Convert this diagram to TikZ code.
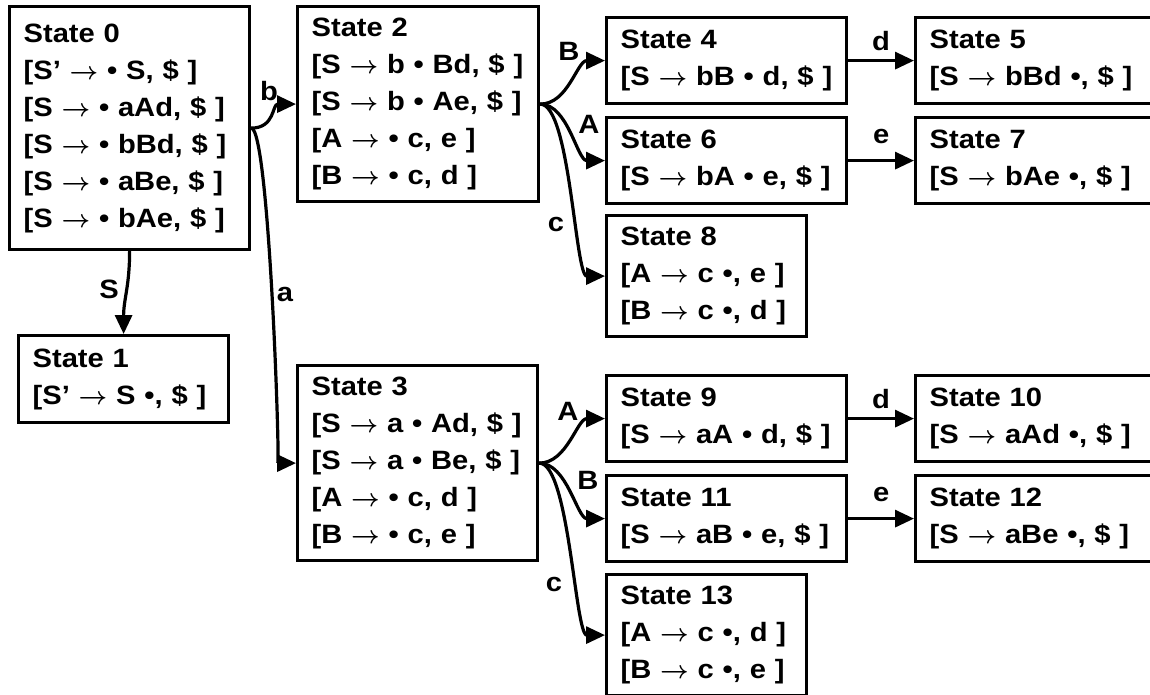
\documentclass[tikz,border=0pt]{standalone}
\usepackage{amsmath}
\usepackage{fontspec}
\setmainfont{Liberation Sans}[FakeStretch=1.1]
\usetikzlibrary{arrows.meta}

\newcommand{\goesto}{\ensuremath{\boldsymbol{\rightarrow}}}
\newcommand{\itemdot}{\textbullet}
\newcommand{\itm}[1]{[#1]}

\tikzset{
  state/.style={draw, line width=3.2pt, anchor=north west, align=left,
    inner xsep=14pt, inner ysep=0pt, font=\bfseries\fontsize{26.5}{37}\selectfont},
  edge/.style={line width=3.2pt, -{Triangle[length=19pt,width=17pt]}},
  lbl/.style={font=\bfseries\fontsize{26.5}{30}\selectfont, inner sep=1pt}
}

\begin{document}
\begin{tikzpicture}[x=1pt, y=-1pt]
        \useasboundingbox (0,0) rectangle (1150,694);
        \clip (0,0) rectangle (1150,694);

        % States
        \node[state, text width=212pt, minimum height=243pt] (s0) at (8,5) {State 0\\
            \itm{S’ \goesto{} \itemdot{} S, \$ }\\ \itm{S \goesto{} \itemdot{} aAd, \$ }\\
            \itm{S \goesto{} \itemdot{} bBd, \$ }\\ \itm{S \goesto{} \itemdot{} aBe, \$ }\\
            \itm{S \goesto{} \itemdot{} bAe, \$ }};
        \node[state, text width=182pt, minimum height=87pt] (s1) at (17,334) {State 1\\
            \itm{S’ \goesto{} S \itemdot, \$ }};
        \node[state, text width=213pt, minimum height=195pt] (s2) at (296,5) {State 2\\
            \itm{S \goesto{} b \itemdot{} Bd, \$ }\\ \itm{S \goesto{} b \itemdot{} Ae, \$ }\\
            \itm{A \goesto{} \itemdot{} c, e }\\ \itm{B \goesto{} \itemdot{} c, d }};
        \node[state, text width=212pt, minimum height=195pt] (s3) at (296,364) {State 3\\
            \itm{S \goesto{} a \itemdot{} Ad, \$ }\\ \itm{S \goesto{} a \itemdot{} Be, \$ }\\
            \itm{A \goesto{} \itemdot{} c, d }\\ \itm{B \goesto{} \itemdot{} c, e }};
        \node[state, text width=212pt, minimum height=86pt] (s4) at (605,16) {State 4\\
            \itm{S \goesto{} bB \itemdot{} d, \$ }};
        \node[state, text width=218pt, minimum height=86pt] (s5) at (914,16) {State 5\\
            \itm{S \goesto{} bBd \itemdot, \$ }};
        \node[state, text width=212pt, minimum height=86pt] (s6) at (605,116) {State 6\\
            \itm{S \goesto{} bA \itemdot{} e, \$ }};
        \node[state, text width=218pt, minimum height=86pt] (s7) at (914,116) {State 7\\
            \itm{S \goesto{} bAe \itemdot, \$ }};
        \node[state, text width=172pt, minimum height=121pt] (s8) at (605,214) {State 8\\
            \itm{A \goesto{} c \itemdot, e }\\ \itm{B \goesto{} c \itemdot, d }};
        \node[state, text width=212pt, minimum height=86pt] (s9) at (605,374) {State 9\\
            \itm{S \goesto{} aA \itemdot{} d, \$ }};
        \node[state, text width=218pt, minimum height=86pt] (s10) at (914,374) {State 10\\
            \itm{S \goesto{} aAd \itemdot, \$ }};
        \node[state, text width=212pt, minimum height=86pt] (s11) at (605,474) {State 11\\
            \itm{S \goesto{} aB \itemdot{} e, \$ }};
        \node[state, text width=218pt, minimum height=86pt] (s12) at (914,474) {State 12\\
            \itm{S \goesto{} aBe \itemdot, \$ }};
        \node[state, text width=172pt, minimum height=121pt] (s13) at (605,573) {State 13\\
            \itm{A \goesto{} c \itemdot, d }\\ \itm{B \goesto{} c \itemdot, e }};

        % Transitions out of state 0
        \draw[edge] (s0.south) .. controls +(0,35) and +(0,-35) .. (s1.north);
        \draw[edge] (s0.east) .. controls +(24,0) and +(-24,0) .. (s2.west);
        \draw[edge] (s0.east) .. controls +(18,0) and +(-16,0) .. (s3.west);
        \node[lbl] (lS) at (109,289) {S};
        \node[lbl] (lb) at (269,91) {b};
        \node[lbl] (la) at (285,294) {a};

        % Transitions out of state 2
        \draw[edge] (s2.east) .. controls +(28,0) and +(-28,0) .. (s4.west);
        \draw[edge] (s2.east) .. controls +(28,0) and +(-28,0) .. (s6.west);
        \draw[edge] (s2.east) .. controls +(30,0) and +(-30,0) .. (s8.west);
        \node[lbl] (lB1) at (569,51) {B};
        \node[lbl] (lA1) at (589,124) {A};
        \node[lbl] (lc1) at (556,224) {c};

        % Transitions out of state 3
        \draw[edge] (s3.east) .. controls +(28,0) and +(-28,0) .. (s9.west);
        \draw[edge] (s3.east) .. controls +(28,0) and +(-28,0) .. (s11.west);
        \draw[edge] (s3.east) .. controls +(30,0) and +(-30,0) .. (s13.west);
        \node[lbl] (lA2) at (568,411) {A};
        \node[lbl] (lB2) at (588,480) {B};
        \node[lbl] (lc2) at (554,584) {c};

        % Reductions to the end states
        \draw[edge] (s4) -- node[lbl, above=7pt] (ld1) {d} (s5);
        \draw[edge] (s6) -- node[lbl, above=14pt] (le1) {e} (s7);
        \draw[edge] (s9) -- node[lbl, above=7pt] (ld2) {d} (s10);
        \draw[edge] (s11) -- node[lbl, above=14pt] (le2) {e} (s12);
\end{tikzpicture}
\end{document}
